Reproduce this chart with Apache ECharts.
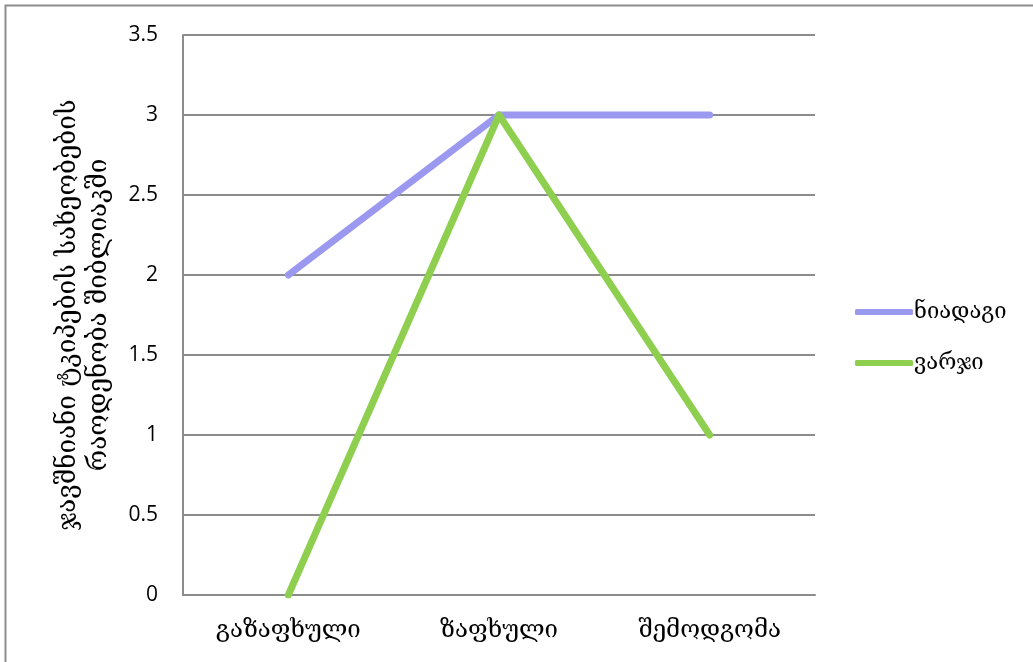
<!DOCTYPE html>
<html>
<head>
<meta charset="utf-8">
<script src="https://cdn.jsdelivr.net/npm/echarts@6/dist/echarts.min.js"></script>
<style>
html,body{margin:0;padding:0;background:#fff;}
#c{width:1033px;height:662px;}
</style>
</head>
<body>
<div id="c"></div>
<script>
const categories = ['გაზაფხული', 'ზაფხული', 'შემოდგომა'];
const soilValues = [2, 3, 3];
const canopyValues = [0, 3, 1];
const seriesNames = ['ნიადაგი', 'ვარჯი'];
const yTitle = 'ჯავშნიანი ტკიპების სახეობების\nრაოდენობა შიბლიაკში';
const yTicks = [0, 0.5, 1, 1.5, 2, 2.5, 3, 3.5];

const geoFont = "'DejaVu Serif', 'DejaVu Sans', serif";
const numFont = "'Open Sans', 'Liberation Sans', sans-serif";

const chart = echarts.init(document.getElementById('c'), null, {renderer: 'canvas'});
chart.setOption({
  animation: false,
  backgroundColor: '#fff',
  graphic: [{
    type: 'rect',
    shape: {x: 5.5, y: 5.5, width: 1100, height: 700},
    style: {fill: 'none', stroke: '#8c8c8c', lineWidth: 2},
    silent: true
  }],
  grid: {left: 183, right: 218, top: 35, bottom: 67, containLabel: false},
  legend: {
    orient: 'vertical',
    left: 850,
    top: 296,
    itemWidth: 58,
    itemHeight: 6,
    itemGap: 29,
    icon: 'roundRect',
    textStyle: {fontFamily: geoFont, fontSize: 22, color: '#000', padding: [0, 0, 0, -4]},
    data: seriesNames
  },
  xAxis: {
    type: 'category',
    data: categories,
    boundaryGap: true,
    axisLine: {lineStyle: {color: '#8c8c8c', width: 2}},
    axisTick: {show: false},
    axisLabel: {fontFamily: geoFont, fontSize: 24, color: '#000', margin: 24}
  },
  yAxis: {
    type: 'value',
    min: 0,
    max: 3.5,
    interval: 0.5,
    name: yTitle,
    nameLocation: 'middle',
    nameGap: 68,
    nameRotate: 90,
    nameTextStyle: {fontFamily: geoFont, fontSize: 26, color: '#000', lineHeight: 31, align: 'center'},
    axisLine: {show: true, lineStyle: {color: '#8c8c8c', width: 2}},
    axisTick: {show: false},
    splitLine: {lineStyle: {color: '#8c8c8c', width: 2}},
    axisLabel: {
      fontFamily: numFont, fontSize: 21, color: '#000', margin: 25,
      formatter: function (v) { return yTicks.indexOf(v) >= 0 ? String(v) : ''; }
    }
  },
  series: [
    {
      name: seriesNames[0],
      type: 'line',
      data: soilValues,
      symbol: 'none',
      color: '#9b98ef',
      lineStyle: {width: 7, color: '#9b98ef', cap: 'round', join: 'round'}
    },
    {
      name: seriesNames[1],
      type: 'line',
      data: canopyValues,
      symbol: 'none',
      color: '#8fcf4f',
      lineStyle: {width: 7, color: '#8fcf4f', cap: 'round', join: 'round'}
    }
  ]
});
</script>
</body>
</html>
